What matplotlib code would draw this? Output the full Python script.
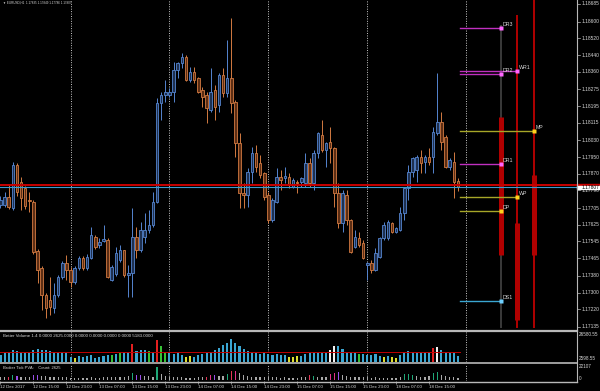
import matplotlib
matplotlib.use("Agg")
import matplotlib.pyplot as plt
import matplotlib.transforms as mtrans
from matplotlib.lines import Line2D
from matplotlib.patches import Rectangle

# -------------------------------------------------------------------
# EURUSD H1, 12 Dec 07:00 .. 18 Dec 22:00 (one entry per bar)
# -------------------------------------------------------------------
opens = [1.17720, 1.17720, 1.17758, 1.17706, 1.17912, 1.17830, 1.17802, 1.17744, 1.17734, 1.17499,
         1.17418, 1.17288, 1.17264, 1.17226, 1.17288, 1.17374, 1.17442, 1.17408, 1.17350, 1.17418,
         1.17466, 1.17418, 1.17466, 1.17566, 1.17528, 1.17547, 1.17552, 1.17360, 1.17389, 1.17456,
         1.17504, 1.17384, 1.17394, 1.17566, 1.17504, 1.17566, 1.17600, 1.17624, 1.17734, 1.18210,
         1.18248, 1.18248, 1.18262, 1.18368, 1.18402, 1.18430, 1.18320, 1.18358, 1.18330, 1.18272,
         1.18248, 1.18176, 1.18272, 1.18200, 1.18344, 1.18258, 1.18330, 1.18214, 1.18018, 1.17778,
         1.17768, 1.17878, 1.17970, 1.17922, 1.17874, 1.17768, 1.17648, 1.17734, 1.17854, 1.17850,
         1.17854, 1.17806, 1.17830, 1.17830, 1.17826, 1.17922, 1.17826, 1.17970, 1.18056, 1.17984,
         1.18022, 1.17994, 1.17778, 1.17634, 1.17768, 1.17648, 1.17518, 1.17562, 1.17538, 1.17432,
         1.17442, 1.17408, 1.17470, 1.17562, 1.17562, 1.17634, 1.17590, 1.17600, 1.17682, 1.17802,
         1.17878, 1.17888, 1.17950, 1.17926, 1.17950, 1.17950, 1.18066, 1.18118, 1.18046, 1.17902,
         1.17926, 1.17835]
highs = [1.17763, 1.17782, 1.17816, 1.17926, 1.17922, 1.17854, 1.17811, 1.17782, 1.17744, 1.17509,
         1.17427, 1.17298, 1.17374, 1.17346, 1.17384, 1.17451, 1.17480, 1.17422, 1.17427, 1.17475,
         1.17475, 1.17485, 1.17614, 1.17576, 1.17562, 1.17624, 1.17562, 1.17432, 1.17518, 1.17528,
         1.17504, 1.17432, 1.17706, 1.17614, 1.17638, 1.17682, 1.17696, 1.17782, 1.18234, 1.18262,
         1.18320, 1.18282, 1.18406, 1.18406, 1.18450, 1.18440, 1.18382, 1.18382, 1.18334, 1.18286,
         1.18262, 1.18378, 1.18296, 1.18354, 1.18378, 1.18512, 1.18618, 1.18224, 1.18066, 1.17826,
         1.17898, 1.17998, 1.18008, 1.17960, 1.17878, 1.17782, 1.17754, 1.17898, 1.17888, 1.17902,
         1.17874, 1.17850, 1.17840, 1.17854, 1.17970, 1.17946, 1.17984, 1.18070, 1.18128, 1.18022,
         1.18094, 1.17998, 1.17826, 1.17792, 1.17792, 1.17652, 1.17600, 1.17590, 1.17552, 1.17446,
         1.17456, 1.17514, 1.17566, 1.17638, 1.17648, 1.17638, 1.17614, 1.17710, 1.17806, 1.17912,
         1.17950, 1.17960, 1.17984, 1.17960, 1.17994, 1.18094, 1.18354, 1.18166, 1.18056, 1.17946,
         1.17974, 1.17849]
lows = [1.17706, 1.17710, 1.17701, 1.17696, 1.17763, 1.17696, 1.17701, 1.17686, 1.17485, 1.17346,
        1.17216, 1.17178, 1.17192, 1.17202, 1.17278, 1.17365, 1.17360, 1.17326, 1.17341, 1.17408,
        1.17408, 1.17408, 1.17461, 1.17509, 1.17514, 1.17542, 1.17370, 1.17355, 1.17379, 1.17446,
        1.17374, 1.17278, 1.17278, 1.17466, 1.17494, 1.17538, 1.17586, 1.17614, 1.17730, 1.18128,
        1.18214, 1.18238, 1.18214, 1.18330, 1.18378, 1.18315, 1.18310, 1.18306, 1.18258, 1.18190,
        1.18114, 1.18166, 1.18128, 1.18166, 1.18238, 1.18238, 1.18162, 1.17950, 1.17706, 1.17706,
        1.17710, 1.17826, 1.17878, 1.17850, 1.17744, 1.17634, 1.17638, 1.17730, 1.17792, 1.17826,
        1.17802, 1.17802, 1.17778, 1.17806, 1.17806, 1.17806, 1.17792, 1.17946, 1.17974, 1.17902,
        1.17922, 1.17710, 1.17610, 1.17590, 1.17624, 1.17490, 1.17514, 1.17518, 1.17461, 1.17360,
        1.17394, 1.17403, 1.17466, 1.17552, 1.17552, 1.17586, 1.17586, 1.17595, 1.17648, 1.17744,
        1.17854, 1.17830, 1.17874, 1.17874, 1.17912, 1.17874, 1.18056, 1.17984, 1.17898, 1.17888,
        1.17754, 1.17786]
closes = [1.17744, 1.17758, 1.17710, 1.17912, 1.17782, 1.17754, 1.17715, 1.17739, 1.17494, 1.17408,
          1.17288, 1.17226, 1.17230, 1.17288, 1.17374, 1.17442, 1.17408, 1.17350, 1.17418, 1.17466,
          1.17418, 1.17470, 1.17576, 1.17518, 1.17542, 1.17557, 1.17374, 1.17422, 1.17490, 1.17504,
          1.17384, 1.17394, 1.17566, 1.17504, 1.17600, 1.17600, 1.17624, 1.17734, 1.18210, 1.18248,
          1.18262, 1.18262, 1.18368, 1.18402, 1.18430, 1.18320, 1.18358, 1.18320, 1.18262, 1.18238,
          1.18186, 1.18262, 1.18190, 1.18344, 1.18258, 1.18330, 1.18210, 1.18018, 1.17778, 1.17768,
          1.17878, 1.17970, 1.17902, 1.17864, 1.17758, 1.17648, 1.17744, 1.17854, 1.17840, 1.17859,
          1.17816, 1.17840, 1.17826, 1.17850, 1.17922, 1.17826, 1.17970, 1.18066, 1.17984, 1.18018,
          1.17994, 1.17778, 1.17634, 1.17778, 1.17648, 1.17494, 1.17566, 1.17528, 1.17466, 1.17442,
          1.17408, 1.17490, 1.17562, 1.17624, 1.17638, 1.17590, 1.17610, 1.17682, 1.17802, 1.17878,
          1.17946, 1.17950, 1.17922, 1.17950, 1.17926, 1.18070, 1.18118, 1.18022, 1.17902, 1.17936,
          1.17830, 1.17807]

# Better Volume and Broker Tick PVA panels
volumes = [6650, 8550, 9500, 11400, 10450, 8550, 8550, 8550, 11400, 12350, 11400, 11400, 10450, 9500,
           8550, 8550, 8550,
           4750, 3800, 5700, 4750, 5700, 6650, 3800, 4750, 5700, 6650, 6650, 7600, 8550, 9500, 9500,
           17100, 10450, 11400, 11400, 10450, 9500, 20900, 15200, 9500,
           8550, 7600, 8550, 6650, 4750, 5700, 4750, 6650, 7600, 8550, 9500, 11400, 13300, 16150,
           18050, 21850, 18050, 15200, 12350, 10450, 8550, 8550, 7600, 8550,
           7600, 6650, 7600, 6650, 6650, 4750, 4750, 5700, 5700, 7600, 8550, 8550, 8550, 8550, 8550,
           11400, 15200, 15200, 12350, 9500, 8550, 8550, 7600, 7600,
           6650, 6650, 7600, 5700, 4750, 5700, 4750, 3800, 6650, 9500, 10450, 9500, 8550, 8550, 8550,
           9500, 13300, 14250, 11400, 9500, 8550, 8550, 5700]
vol_special = {18: "y", 27: "g", 29: "g", 32: "r", 36: "g", 38: "r", 39: "g", 40: "g", 45: "y",
               46: "y", 70: "y", 71: "y", 72: "y", 80: "w", 81: "w", 87: "g", 93: "y", 95: "y",
               96: "y", 105: "r", 106: "w"}
vol_ma = 9200

ticks = [4740, 4740, 4740, 7900, 6320, 4740, 4740, 4740, 7900, 7900, 6320, 6320, 4740, 4740, 4740,
         4740, 4740,
         3160, 3160, 3160, 3160, 3160, 4740, 3160, 3160, 4740, 4740, 4740, 4740, 4740, 4740, 6320,
         11060, 7900, 7900, 6320, 6320, 4740, 20540, 9480, 6320,
         4740, 4740, 4740, 4740, 3160, 3160, 3160, 4740, 4740, 4740, 7900, 7900, 6320, 6320, 9480,
         14220, 14220, 11060, 7900, 6320, 4740, 4740, 4740, 4740,
         4740, 4740, 4740, 3160, 4740, 3160, 3160, 3160, 4740, 4740, 7900, 6320, 4740, 4740, 4740,
         9480, 11060, 12640, 7900, 6320, 4740, 4740, 4740, 4740,
         4740, 3160, 4740, 3160, 3160, 3160, 3160, 3160, 4740, 9480, 9480, 7900, 6320, 4740, 4740,
         6320, 11060, 12640, 7900, 6320, 4740, 4740, 3160]
tick_special = {2: "r", 3: "g", 4: "p", 8: "p", 9: "p", 32: "g", 33: "p", 34: "p", 38: "g",
                50: "r", 51: "m", 52: "p", 55: "g", 56: "r", 57: "m", 75: "r", 76: "g", 80: "m",
                81: "m", 82: "p", 98: "g", 99: "g", 100: "g", 105: "g", 106: "g"}

# day separators (bar index) and time labels
day_breaks = [17, 41, 65, 89, 113]
xlabel_idx = [0, 8, 16, 24, 32, 40, 48, 56, 64, 72, 80, 88, 96, 104]
xlabel_txt = ["12 Dec 2017", "12 Dec 15:00", "12 Dec 23:00", "13 Dec 07:00", "13 Dec 15:00",
              "13 Dec 23:00", "14 Dec 07:00", "14 Dec 15:00", "14 Dec 23:00", "15 Dec 07:00",
              "15 Dec 15:00", "15 Dec 23:00", "18 Dec 07:00", "18 Dec 15:00"]

price_ticks = [1.18685, 1.18600, 1.18520, 1.18440, 1.18360, 1.18275, 1.18195, 1.18115, 1.18030,
               1.17950, 1.17870, 1.17790, 1.17705, 1.17625, 1.17545, 1.17465, 1.17380, 1.17300,
               1.17220, 1.17135]
bid = 1.17807
ask = 1.17817

# pivot levels: name, price, end bar, line colour
pivot_names = ["DR3", "DR2", "WR1", "MP", "DR1", "WP", "DP", "DS1"]
pivot_prices = [1.18570, 1.18349, 1.18363, 1.18075, 1.17917, 1.17758, 1.17691, 1.17259]
pivot_end = [121.5, 121.5, 125.4, 129.5, 121.5, 125.4, 121.5, 121.5]
pivot_kind = ["r", "r", "r", "p", "r", "p", "p", "s"]

# day / week / month range bars: x, wick top, body top, body bottom, wick bottom
range_x = [121.5, 125.4, 129.5]
range_hi = [1.18584, 1.18632, 1.18720]
range_btop = [1.18142, 1.17634, 1.17864]
range_bbot = [1.17480, 1.17168, 1.17480]
range_lo = [1.17130, 1.17130, 1.17130]

# -------------------------------------------------------------------
BG = "black"
FG = "#d8d8d8"
BULL, BULL_FILL = "#5585d0", "#1e3050"
BEAR, BEAR_FILL = "#d27a42", "#5c2e14"
SEP = "#b8b8b8"
VOL_COL = {"b": "#3aa6d2", "y": "#dede30", "g": "#36c236", "r": "#e42020", "w": "#f2f2f2"}
TICK_COL = {"n": "#a8a8a8", "g": "#1fa878", "r": "#e23656", "m": "#e0308a", "p": "#9a50e8"}
PIV_COL = {"r": "#c030c0", "p": "#a6a628", "s": "#3aa6d2"}
PIV_MRK = {"r": "#ff66ff", "p": "#ffd21e", "s": "#6fd0ff"}

plt.rcParams.update({"font.family": "Liberation Sans", "figure.facecolor": BG,
                     "axes.facecolor": BG, "savefig.facecolor": BG})

W, H = 600, 391
fig = plt.figure(figsize=(6, 3.91), dpi=100)
RIGHT = 577 / W
ax = fig.add_axes([0, 61 / H, RIGHT, 330 / H])
axv = fig.add_axes([0, 29 / H, RIGHT, 30 / H])
axt = fig.add_axes([0, 10 / H, RIGHT, 17 / H])

n = len(opens)
xs = list(range(n))
XMIN, XMAX = -0.12, 139.9
for a in (ax, axv, axt):
    a.set_xlim(XMIN, XMAX)
    for s in a.spines.values():
        s.set_visible(False)
    a.set_xticks([])
    a.set_yticks([])
    for d in day_breaks:
        a.axvline(d, color="#c8c8c8", lw=0.7, ls=(0, (1, 1.5)), zorder=1)

# main price chart
ax.set_ylim(1.17120, 1.18704)
for i in xs:
    o, h, l, c = opens[i], highs[i], lows[i], closes[i]
    up = c >= o
    ec = BULL if up else BEAR
    fc = BULL_FILL if up else BEAR_FILL
    ax.vlines(i, l, h, color=ec, lw=0.7, zorder=3)
    ax.bar(i, max(abs(c - o), 0.000012), bottom=min(o, c), width=0.62,
           facecolor=fc, edgecolor=ec, lw=0.6, zorder=4)

ax.axhline(ask, color="#c80000", lw=1.4, zorder=5)
ax.axhline(bid, color="#3c9cd0", lw=0.8, zorder=5)

# day/week/month range bars
for k, x in enumerate(range_x):
    thin = "#3a3a3a" if k == 0 else "#b00000"
    ax.vlines(x, range_bbot[k], range_hi[k], color=thin, lw=1.4, zorder=2)
    ax.vlines(x, range_lo[k], range_btop[k], color=thin, lw=1.4, zorder=2)
    ax.vlines(x, range_bbot[k], range_btop[k], color="#b00000", lw=3.6, zorder=2)

# pivot lines
for name, p, xe, kind in zip(pivot_names, pivot_prices, pivot_end, pivot_kind):
    ax.plot([111.5, xe], [p, p], color=PIV_COL[kind], lw=1.0, zorder=6)
    ax.plot([xe], [p], marker="s", ms=2.2, color=PIV_MRK[kind], mec="none", zorder=7)
    ax.text(xe + 0.3, p + 0.00004, name, color=FG, fontsize=3.8, ha="left", va="bottom",
            zorder=8)

# right price scale
yt = mtrans.blended_transform_factory(ax.transAxes, ax.transData)
for p in price_ticks:
    ax.plot([1.0, 1.006], [p, p], transform=yt, color=SEP, lw=0.5, clip_on=False)
    ax.text(1.008, p, "%.5f" % p, transform=yt, color=FG, fontsize=3.5, va="center",
            ha="left", clip_on=False)
ax.add_patch(Rectangle((1.0, ask - 0.00005), 23 / 577, 0.0001, transform=yt,
                       color="#c80000", clip_on=False, zorder=9))
ax.add_patch(Rectangle((1.0, bid - 0.00009), 23 / 577, 0.00013, transform=yt,
                       color="white", clip_on=False, zorder=10))
ax.text(1.008, bid - 0.00002, "%.5f" % bid, transform=yt, color="black", fontsize=3.5,
        va="center", ha="left", clip_on=False, zorder=11)

fig.text(3 / W, 1 - 3 / H, "\u25bc EURUSD,H1  %.5f %.5f %.5f %.5f"
         % (opens[-1], highs[-1], lows[-1], closes[-1]),
         color=FG, fontsize=2.2, ha="left", va="center")

# Better Volume panel
axv.set_ylim(0, 28500)
vcols = [VOL_COL[vol_special.get(i, "b")] for i in xs]
axv.bar(xs, volumes, width=0.5, color=vcols, zorder=3)
axv.plot([-0.5, n - 0.5], [vol_ma, vol_ma], color="#c00000", lw=0.7, zorder=4)
axv.text(3 / 577, 1 - 4 / 30, "Better Volume 1.4 0.0000 2625.0000 0.0000 0.0000 0.0000 "
         "0.0000 5183.0000", transform=axv.transAxes, color=FG, fontsize=3.2,
         ha="left", va="center")
fig.text(579 / W, 1 - 334 / H, "26580.55", color=FG, fontsize=3.3, va="center")
fig.text(579 / W, 1 - 359 / H, "2598.55", color=FG, fontsize=3.3, va="center")

# Broker Tick PVA panel
axt.set_ylim(-1580, 25280)
tcols = [TICK_COL[tick_special.get(i, "n")] for i in xs]
axt.bar(xs, ticks, width=0.3, color=tcols, zorder=3)
axt.text(3 / 577, 1 - 4 / 17, "Broker Tick PVA:    Count: 2625", transform=axt.transAxes,
         color=FG, fontsize=3.0, ha="left", va="center")
fig.text(579 / W, 1 - 366 / H, "22107", color=FG, fontsize=3.3, va="center")
fig.text(579 / W, 1 - 378 / H, "0", color=FG, fontsize=3.3, va="center")

# time axis
axt.set_xticks(xlabel_idx)
axt.set_xticklabels(xlabel_txt, fontsize=3.2, color=FG, ha="left")
axt.tick_params(axis="x", direction="out", length=2, width=0.5, color=SEP, pad=1.2)

# panel separators and scale border
for y0, lw in [(330.5, 1.6), (363, 1.2), (381.5, 1.0)]:
    fig.add_artist(Line2D([0, RIGHT], [1 - y0 / H, 1 - y0 / H], color=SEP, lw=lw))
fig.add_artist(Line2D([RIGHT, RIGHT], [1 - 381.5 / H, 1], color=SEP, lw=0.8))

fig.savefig("out.png", dpi=100, facecolor=BG)
